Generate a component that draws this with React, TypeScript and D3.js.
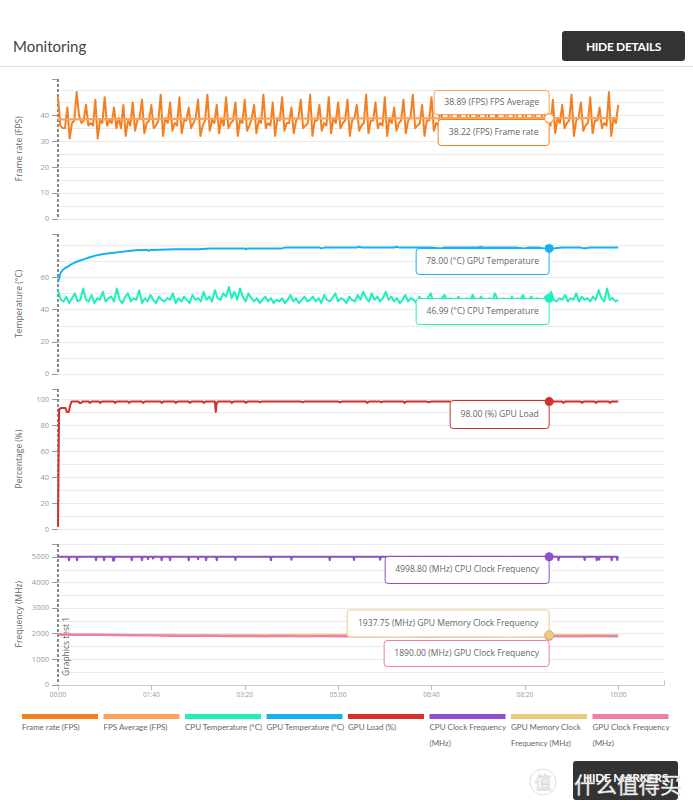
import React from "react";
import * as d3 from "d3";

// ---------------- DATA ----------------
const TIME_TICKS = [0, 100, 200, 300, 400, 500, 600];
const TIME_LABELS = ["00:00", "01:40", "03:20", "05:00", "06:40", "08:20", "10:00"];
const X_DOMAIN = [0, 649];

const LEGEND_LINES = [
  ["Frame rate (FPS)"],
  ["FPS Average (FPS)"],
  ["CPU Temperature (°C)"],
  ["GPU Temperature (°C)"],
  ["GPU Load (%)"],
  ["CPU Clock Frequency", "(MHz)"],
  ["GPU Memory Clock", "Frequency (MHz)"],
  ["GPU Clock Frequency", "(MHz)"],
];

// Frame rate sampled every 2.5 s
const FPS_STEP = 2.5;
const FPS = [
  47, 36, 35, 35, 43, 31, 37, 38, 49, 40, 37, 38, 44, 36, 37, 36,
  46, 31, 38, 37, 47, 36, 38, 37, 43, 35, 39, 35, 44, 32, 38, 36,
  45, 34, 38, 39, 46, 33, 37, 38, 44, 35, 36, 38, 48, 32, 39, 37,
  45, 34, 37, 36, 47, 33, 38, 38, 43, 35, 37, 39, 46, 32, 36, 38,
  48, 34, 38, 37, 44, 33, 39, 36, 47, 35, 37, 38, 45, 32, 38, 37,
  46, 34, 36, 39, 44, 33, 38, 37, 48, 35, 37, 36, 45, 32, 39, 38,
  47, 34, 37, 37, 43, 33, 38, 39, 46, 35, 36, 37, 48, 32, 38, 38,
  44, 34, 37, 36, 47, 33, 39, 37, 45, 35, 37, 38, 46, 32, 38, 39,
  44, 34, 36, 37, 48, 33, 38, 38, 45, 35, 37, 36, 47, 32, 39, 37,
  43, 34, 37, 38, 46, 33, 38, 39, 48, 35, 36, 37, 44, 32, 38, 38,
  47, 34, 37, 36, 45, 33, 39, 37, 46, 35, 37, 38, 44, 32, 38, 39,
  48, 34, 36, 37, 45, 33, 38, 38, 47, 35, 37, 36, 43, 32, 39, 37,
  46, 34, 37, 38, 48, 33, 38, 39, 44, 35, 36, 37, 47, 32, 38, 38,
  45, 34, 38, 36, 46, 33, 39, 37, 44, 35, 37, 38, 48, 32, 38, 39,
  45, 34, 36, 37, 47, 33, 38, 38, 43, 35, 37, 36, 49, 32, 39, 37,
  44,
];
const FPS_AVG = [[0, 38.4], [100, 38.6], [300, 38.8], [526, 38.89], [600, 38.9]];

// CPU temperature sampled every 3 s
const CPU_TEMP_STEP = 3;
const CPU_TEMP = [
  52, 46, 45, 48, 44, 47, 50, 45, 46, 53,
  46, 45, 49, 44, 47, 46, 51, 45, 47, 48,
  45, 53, 46, 44, 48, 50, 45, 47, 46, 52,
  44, 47, 45, 49, 46, 44, 48, 46, 45, 47,
  46, 50, 44, 47, 45, 48, 46, 44, 49, 46,
  47, 45, 51, 46, 48, 45, 52, 47, 46, 50,
  48, 54, 47, 51, 46, 53, 48, 45, 50, 47,
  45, 47, 44, 46, 48, 45, 47, 44, 46, 45,
  47, 44, 46, 49, 45, 47, 44, 46, 48, 45,
  46, 48, 45, 47, 44, 49, 46, 45, 47, 50,
  45, 47, 46, 44, 48, 46, 45, 49, 46, 51,
  47, 45, 50, 46, 48, 45, 47, 51, 46, 48,
  45, 47, 44, 46, 49, 45, 47, 46, 44, 48,
  46, 45, 47, 50, 45, 46, 44, 47, 49, 45,
  47, 46, 45, 48, 44, 46, 47, 45, 49, 46,
  45, 48, 46, 44, 47, 45, 50, 46, 45, 47,
  46, 44, 48, 45, 47, 46, 49, 45, 46, 48,
  45, 47, 46, 44, 48, 47, 51, 46, 45, 47,
  46, 49, 45, 47, 46, 50, 45, 48, 46, 47,
  45, 48, 46, 52, 47, 45, 53, 46, 47, 45,
  46,
];

const GPU_TEMP = [
  [0, 57], [1, 59], [2, 61.5], [3, 63], [5, 64.5], [7, 65.5], [10, 66.5], [14, 68],
  [19, 69.5], [24, 70.5], [29, 71.5], [34, 72.5], [40, 73.5], [47, 74.3], [55, 75],
  [62, 75.5], [70, 76], [78, 76.5], [86, 77], [96, 77], [97, 76.5], [99, 77],
  [110, 77.2], [125, 77.5], [150, 77.5], [163, 78], [200, 78], [201, 77.5], [203, 78],
  [240, 78], [243, 78.5], [280, 78.5], [282, 78], [285, 78.5], [320, 78.5], [322, 79],
  [326, 78.5], [360, 78.5], [362, 79], [366, 78.5], [400, 78.5], [410, 78], [413, 78.5],
  [450, 78.5], [452, 79], [456, 78.5], [490, 78.5], [500, 78], [503, 78.5], [515, 78.5],
  [520, 78], [530, 78], [540, 78.5], [560, 78.5], [563, 78], [570, 78.5], [590, 78.5],
  [600, 78.5],
];

const GPU_LOAD = [
  [0, 2], [0.4, 30], [0.8, 70], [1.2, 92], [3, 93], [8, 93], [9.5, 90], [11.5, 90],
  [13, 95], [14.5, 98], [22, 98], [23, 97], [25, 97], [26, 98], [33, 98], [34, 97],
  [36, 98], [44, 98], [45, 97], [47, 98], [60, 98], [61, 97], [63, 98], [75, 98],
  [76, 97], [78, 98], [90, 98], [91, 97], [93, 98], [110, 98], [111, 97], [113, 98],
  [125, 98], [126, 97], [128, 98], [140, 98], [141, 97], [143, 98], [155, 98],
  [156, 97], [158, 98], [168, 98], [169, 90], [170, 97], [171.5, 98], [185, 98],
  [186, 97], [188, 98], [200, 98], [201, 97], [203, 98], [215, 98], [216, 97.5],
  [218, 98], [260, 98], [262, 97.5], [264, 98], [300, 98], [302, 97.5], [304, 98],
  [330, 98], [331, 97], [333, 98], [345, 98], [346, 97.5], [348, 98], [370, 98],
  [371, 97], [373, 98], [395, 98], [397, 97.5], [399, 98], [420, 98], [421, 97],
  [423, 98], [440, 98], [441, 97], [443, 98], [460, 98], [461, 97.5], [463, 98],
  [480, 98], [481, 97], [483, 98], [500, 98], [501, 97.5], [503, 98], [540, 98],
  [541, 97], [543, 98], [560, 98], [561, 97], [563, 98], [575, 98], [576, 97],
  [578, 98], [590, 98], [591, 97], [593, 98], [600, 98],
];

const CPU_CLOCK = [
  [0, 4998], [11, 4998], [11.8, 4860], [12.6, 4998], [19.6, 4998], [20.4, 4860],
  [21.2, 4998], [40, 4998], [40.7, 4860], [41.4, 4998], [48.6, 4998], [49.3, 4860],
  [50, 4998], [58.4, 4998], [59, 4850], [59.5, 4998], [60, 4850], [60.6, 4998],
  [78.3, 4998], [79, 4860], [79.7, 4998], [89.3, 4998], [90, 4860], [90.7, 4998],
  [95.7, 4998], [96.4, 4900], [97.1, 4998], [101.1, 4998], [101.8, 4930], [102.5, 4998],
  [110.3, 4998], [111, 4860], [111.7, 4998], [119.3, 4998], [120, 4860], [120.7, 4998],
  [139.3, 4998], [140, 4860], [140.7, 4998], [149.3, 4998], [150, 4900], [150.7, 4998],
  [157.9, 4998], [158.6, 4860], [159.3, 4998], [169.3, 4998], [170, 4860], [170.7, 4998],
  [189.3, 4998], [190, 4870], [190.7, 4998], [227.3, 4998], [228, 4860], [228.7, 4998],
  [249.3, 4998], [250, 4880], [250.7, 4998], [290.3, 4998], [291, 4860], [291.7, 4998],
  [316.3, 4998], [317, 4870], [317.7, 4998], [344.3, 4998], [345, 4880], [345.7, 4998],
  [366.3, 4998], [367, 4860], [367.7, 4998], [387.3, 4998], [388, 4880], [388.7, 4998],
  [423.3, 4998], [424, 4870], [424.7, 4998], [449.3, 4998], [450, 4880], [450.7, 4998],
  [478.3, 4998], [479, 4870], [479.7, 4998], [535.3, 4998], [536, 4860], [536.7, 4998],
  [563.3, 4998], [564, 4870], [564.7, 4998], [576.3, 4998], [577, 4860], [577.7, 4998],
  [578.8, 4998], [579.5, 4880], [580.2, 4998], [592.3, 4998], [593, 4860], [593.7, 4998],
  [598.3, 4998], [599, 4870], [599.7, 4998], [600, 4998],
];

const GPU_MEM_CLOCK = [
  [0, 1950], [50, 1945], [100, 1940], [200, 1938], [300, 1940], [400, 1938],
  [526, 1937.75], [600, 1938],
];
const GPU_CLOCK = [
  [0, 1955], [20, 1950], [40, 1945], [60, 1935], [80, 1930], [100, 1925], [120, 1910],
  [140, 1905], [160, 1915], [180, 1895], [200, 1900], [220, 1890], [240, 1905],
  [260, 1885], [280, 1895], [300, 1890], [320, 1900], [340, 1885], [360, 1895],
  [380, 1890], [400, 1880], [420, 1895], [440, 1890], [460, 1885], [480, 1895],
  [500, 1890], [526, 1890], [550, 1885], [575, 1895], [600, 1890],
];

const MARKER_T = 526;
const TIP_TEXTS = [
  "38.89 (FPS) FPS Average",
  "38.22 (FPS) Frame rate",
  "78.00 (°C) GPU Temperature",
  "46.99 (°C) CPU Temperature",
  "98.00 (%) GPU Load",
  "4998.80 (MHz) CPU Clock Frequency",
  "1937.75 (MHz) GPU Memory Clock Frequency",
  "1890.00 (MHz) GPU Clock Frequency",
];
const TIP_VALUES = [38.89, 38.22, 78.0, 46.99, 98.0, 4998.8, 1937.75, 1890.0];

// ---------------- STYLE / LAYOUT ----------------
const COLORS = ["#f47f20", "#fba35a", "#1df0bd", "#16b1f5", "#d3302f", "#8e4fca", "#e8cd80", "#ec80aa"];
const TEXT = "#666";
const TICK = "#999";
const GRID = "#ececec";

const PANELS = [
  { title: "Frame rate (FPS)", domain: [0, 50], range: [218.5, 89.5], top: 79, grid: 5, labels: [0, 10, 20, 30, 40] },
  { title: "Temperature (°C)", domain: [0, 80], range: [373.7, 245.2], top: 234, grid: 10, labels: [0, 20, 40, 60] },
  { title: "Percentage (%)", domain: [0, 100], range: [529, 399], top: 389, grid: 10, labels: [0, 20, 40, 60, 80, 100] },
  { title: "Frequency (MHz)", domain: [0, 5500], range: [684.5, 544], top: 544, grid: 500, labels: [0, 1000, 2000, 3000, 4000, 5000] },
];
// tooltip layout: series colour index, box width, box top, box height
const TIP_LAYOUT = [
  { c: 1, w: 115, top: 90, h: 24 },
  { c: 0, w: 111, top: 119, h: 26 },
  { c: 3, w: 133, top: 248, h: 26 },
  { c: 2, w: 133, top: 298, h: 26 },
  { c: 4, w: 99, top: 400, h: 28 },
  { c: 5, w: 164, top: 556, h: 27 },
  { c: 6, w: 202, top: 609.5, h: 27 },
  { c: 7, w: 165, top: 640, h: 26 },
];

export default function App() {
  const x = d3.scaleLinear().domain(X_DOMAIN).range([58, 664]);
  const ys = PANELS.map((p) => d3.scaleLinear().domain(p.domain).range(p.range));

  const mk = (yi: number) =>
    d3
      .line<number[]>()
      .x((d) => x(d[0]))
      .y((d) => ys[yi](d[1]));

  const fpsPts = FPS.map((v, i) => [i * FPS_STEP, v]);
  const cpuTempPts = CPU_TEMP.map((v, i) => [i * CPU_TEMP_STEP, v]);

  const lines = [
    { d: mk(0)(fpsPts), c: COLORS[0], w: 2 },
    { d: mk(0)(FPS_AVG), c: COLORS[1], w: 2.2 },
    { d: mk(1)(GPU_TEMP), c: COLORS[3], w: 2 },
    { d: mk(1)(cpuTempPts), c: COLORS[2], w: 2 },
    { d: mk(2)(GPU_LOAD), c: COLORS[4], w: 2 },
    { d: mk(3)(CPU_CLOCK), c: COLORS[5], w: 2 },
    { d: mk(3)(GPU_MEM_CLOCK), c: COLORS[6], w: 2.2 },
    { d: mk(3)(GPU_CLOCK), c: COLORS[7], w: 2.4 },
  ];

  const mx = x(MARKER_T);

  return (
    <svg
      width={693}
      height={812}
      style={{ position: "absolute", left: 0, top: 0, background: "#fff" }}
      fontFamily="'Open Sans', sans-serif"
    >
      {/* header */}
      <text x={13} y={52} fontFamily="Lato, sans-serif" fontSize={15} fill="#444">
        Monitoring
      </text>
      <rect x={562} y={31} width={123} height={30} rx={3} fill="#333" />
      <text x={623.5} y={50.5} textAnchor="middle" fontFamily="Lato, sans-serif" fontWeight={700} fontSize={12} fill="#fff" letterSpacing={-0.3}>
        HIDE DETAILS
      </text>
      <line x1={0} x2={693} y1={66.5} y2={66.5} stroke="#ddd" />

      {/* panels */}
      {PANELS.map((p, pi) => {
        const y = ys[pi];
        const gridVals = d3.range(p.domain[0], p.domain[1] + 0.001, p.grid);
        return (
          <g key={pi}>
            {gridVals.map((g) => (
              <line key={g} x1={58} x2={664} y1={Math.round(y(g)) + 0.5} y2={Math.round(y(g)) + 0.5} stroke={GRID} />
            ))}
            {p.labels.map((l) => (
              <g key={l}>
                <line x1={52} x2={58} y1={Math.round(y(l)) + 0.5} y2={Math.round(y(l)) + 0.5} stroke={TICK} />
                <text x={49} y={y(l) + 2.6} textAnchor="end" fontSize={7.5} fill={TICK}>
                  {l}
                </text>
              </g>
            ))}
            <line x1={52} x2={58} y1={p.top + 0.5} y2={p.top + 0.5} stroke={TICK} />
            <line x1={58} x2={58} y1={p.top} y2={p.range[0]} stroke="#888" strokeWidth={2} strokeDasharray="3,2" />
            <text
              transform={`translate(22,${(p.top + p.range[0]) / 2}) rotate(-90)`}
              textAnchor="middle"
              fontSize={8.5}
              fill={TEXT}
            >
              {p.title}
            </text>
          </g>
        );
      })}

      {/* x axis */}
      <line x1={58} x2={664} y1={685.5} y2={685.5} stroke="#ccc" />
      <line x1={664.5} x2={664.5} y1={680} y2={686} stroke="#ccc" />
      {TIME_TICKS.map((t, i) => (
        <g key={t}>
          <line x1={Math.round(x(t)) + 0.5} x2={Math.round(x(t)) + 0.5} y1={685} y2={690} stroke="#bbb" />
          <text x={x(t)} y={697} textAnchor="middle" fontSize={6.5} fill={TICK}>
            {TIME_LABELS[i]}
          </text>
        </g>
      ))}

      {/* event label */}
      <text transform="translate(69,676) rotate(-90)" fontSize={8.5} fill={TEXT}>
        Graphics test 1
      </text>

      {/* series */}
      {lines.map((l, i) => (
        <path key={i} d={l.d || ""} fill="none" stroke={l.c} strokeWidth={l.w} strokeLinejoin="round" />
      ))}

      {/* tooltips */}
      {TIP_LAYOUT.map((t, i) => (
        <g key={i}>
          <rect x={mx - t.w} y={t.top + 0.5} width={t.w} height={t.h} rx={3} fill="#fff" stroke={COLORS[t.c]} />
          <text x={mx - t.w / 2} y={t.top + t.h / 2 + 2.8} textAnchor="middle" fontSize={8.6} fill={TEXT}>
            {TIP_TEXTS[i]}
          </text>
        </g>
      ))}
      {/* markers */}
      <circle cx={mx} cy={ys[0](TIP_VALUES[0])} r={4.5} fill="#fff" stroke={COLORS[1]} strokeWidth={1.5} />
      <circle cx={mx} cy={ys[1](TIP_VALUES[2])} r={4.5} fill={COLORS[3]} />
      <circle cx={mx} cy={ys[1](TIP_VALUES[3])} r={4.5} fill={COLORS[2]} />
      <circle cx={mx} cy={ys[2](TIP_VALUES[4])} r={4.5} fill={COLORS[4]} />
      <circle cx={mx} cy={ys[3](TIP_VALUES[5])} r={4.5} fill={COLORS[5]} />
      <circle cx={mx} cy={ys[3](TIP_VALUES[7])} r={4.5} fill={COLORS[7]} />
      <circle cx={mx} cy={ys[3](TIP_VALUES[6])} r={4.5} fill={COLORS[6]} stroke="#d9b868" strokeWidth={1} />

      {/* legend */}
      {LEGEND_LINES.map((ls, i) => {
        const lx = 22 + i * 81.5;
        return (
          <g key={i}>
            <rect x={lx} y={714} width={76} height={5} fill={COLORS[i]} />
            {ls.map((s, j) => (
              <text key={j} x={lx} y={730 + j * 16} fontFamily="Lato, sans-serif" fontSize={8} fill={TEXT}>
                {s}
              </text>
            ))}
          </g>
        );
      })}

      {/* bottom button */}
      <rect x={573} y={761} width={105} height={39} rx={3} fill="#333" />
      <text x={625.5} y={782} textAnchor="middle" fontFamily="Lato, sans-serif" fontWeight={700} fontSize={12} fill="#fff" letterSpacing={-0.3}>
        HIDE MARKERS
      </text>
      {/* watermark */}
      <circle cx={543} cy={782} r={13} fill="none" stroke="#ddd" strokeWidth={1} />
      <text x={543} y={789} textAnchor="middle" fontFamily="'Noto Sans CJK SC', sans-serif" fontSize={17} fill="#fff" stroke="#d0d0d0" strokeWidth={0.6}>
        值
      </text>
      <text x={574} y={793} fontFamily="'Noto Sans CJK SC', sans-serif" fontSize={21.5} fill="#fff" stroke="#c8c8c8" strokeWidth={0.5}>
        什么值得买
      </text>
    </svg>
  );
}
